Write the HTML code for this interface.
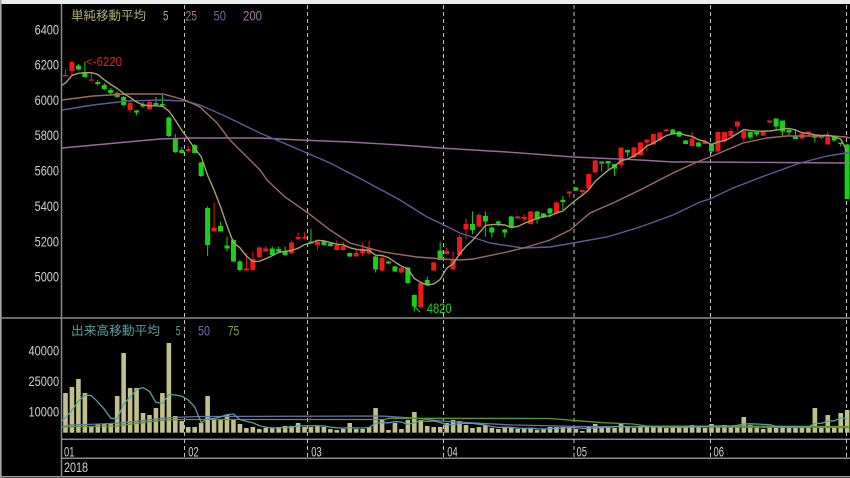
<!DOCTYPE html>
<html><head><meta charset="utf-8"><style>
html,body{margin:0;padding:0;background:#000;}
svg{display:block;}
.ax{font-family:"Liberation Sans",sans-serif;font-size:14px;fill:#d0d0d0;}
.cj{font-family:"Liberation Sans","Noto Sans CJK JP",sans-serif;font-size:12.5px;}
</style></head><body>
<svg id="c" width="850" height="478" xmlns="http://www.w3.org/2000/svg">
<defs>
<clipPath id="cp1"><rect x="62" y="5" width="788" height="312.5"/></clipPath>
<clipPath id="cp2"><rect x="62" y="319" width="788" height="119.5"/></clipPath>
</defs>
<rect x="0" y="0" width="850" height="478" fill="#000"/>
<rect x="0" y="0" width="850" height="4" fill="#ececec"/>
<rect x="0" y="0" width="1.6" height="478" fill="#a8a8a8"/>
<line x1="0" y1="476.8" x2="850" y2="476.8" stroke="#9a9a9a" stroke-width="1.5"/>
<line x1="61.5" y1="4" x2="61.5" y2="477" stroke="#8a8a8a" stroke-width="1.5"/>
<line x1="0" y1="318" x2="850" y2="318" stroke="#8a8a8a" stroke-width="1.5"/>
<line x1="62" y1="439.3" x2="850" y2="439.3" stroke="#8a8a8a" stroke-width="1.5"/>
<line x1="62" y1="458.3" x2="850" y2="458.3" stroke="#8a8a8a" stroke-width="1.5"/>
<g stroke="#c0c0c0" stroke-width="1" stroke-dasharray="4 3">
<line x1="184.5" y1="5" x2="184.5" y2="458"/>
<line x1="307.5" y1="5" x2="307.5" y2="458"/>
<line x1="443.5" y1="5" x2="443.5" y2="458"/>
<line x1="574" y1="5" x2="574" y2="458"/>
<line x1="710.5" y1="5" x2="710.5" y2="458"/>
<line x1="846.5" y1="5" x2="846.5" y2="458"/>
</g>
<g id="vol" clip-path="url(#cp2)"></g>
<g id="pr" clip-path="url(#cp1)"></g>

<text class="ax" x="34.6" y="34.5" textLength="24.4" lengthAdjust="spacingAndGlyphs">6400</text>
<text class="ax" x="34.6" y="69.6" textLength="24.4" lengthAdjust="spacingAndGlyphs">6200</text>
<text class="ax" x="34.6" y="104.9" textLength="24.4" lengthAdjust="spacingAndGlyphs">6000</text>
<text class="ax" x="34.6" y="140.2" textLength="24.4" lengthAdjust="spacingAndGlyphs">5800</text>
<text class="ax" x="34.6" y="175.6" textLength="24.4" lengthAdjust="spacingAndGlyphs">5600</text>
<text class="ax" x="34.6" y="210.9" textLength="24.4" lengthAdjust="spacingAndGlyphs">5400</text>
<text class="ax" x="34.6" y="246.3" textLength="24.4" lengthAdjust="spacingAndGlyphs">5200</text>
<text class="ax" x="34.6" y="281.6" textLength="24.4" lengthAdjust="spacingAndGlyphs">5000</text>
<text class="ax" x="28.5" y="355.5" textLength="30.6" lengthAdjust="spacingAndGlyphs">40000</text>
<text class="ax" x="28.5" y="386" textLength="30.6" lengthAdjust="spacingAndGlyphs">25000</text>
<text class="ax" x="28.5" y="416.6" textLength="30.6" lengthAdjust="spacingAndGlyphs">10000</text>
<text class="ax" x="64" y="456.7" textLength="10.5" lengthAdjust="spacingAndGlyphs">01</text>
<text class="ax" x="188.3" y="456.7" textLength="10.5" lengthAdjust="spacingAndGlyphs">02</text>
<text class="ax" x="311.3" y="456.7" textLength="10.5" lengthAdjust="spacingAndGlyphs">03</text>
<text class="ax" x="447.3" y="456.7" textLength="10.5" lengthAdjust="spacingAndGlyphs">04</text>
<text class="ax" x="576.5" y="456.7" textLength="10.5" lengthAdjust="spacingAndGlyphs">05</text>
<text class="ax" x="713.5" y="456.7" textLength="10.5" lengthAdjust="spacingAndGlyphs">06</text>
<text class="ax" x="64" y="471.8" textLength="24" lengthAdjust="spacingAndGlyphs">2018</text>

<text class="cj" x="71" y="19.8" fill="#b4ac78" textLength="75" lengthAdjust="spacingAndGlyphs">単純移動平均</text>
<text class="ax" x="163" y="20.5" style="fill:#b4ac78" textLength="5.5" lengthAdjust="spacingAndGlyphs">5</text>
<text class="ax" x="185.5" y="20.5" style="fill:#a87070" textLength="11.5" lengthAdjust="spacingAndGlyphs">25</text>
<text class="ax" x="213.5" y="20.5" style="fill:#6a6aa8" textLength="12.5" lengthAdjust="spacingAndGlyphs">50</text>
<text class="ax" x="243" y="20.5" style="fill:#a078a0" textLength="19" lengthAdjust="spacingAndGlyphs">200</text>

<text class="cj" x="71" y="335" fill="#5aa0a0" textLength="89" lengthAdjust="spacingAndGlyphs">出来高移動平均</text>
<text class="ax" x="175.7" y="335.5" style="fill:#5aa0a0" textLength="4.8" lengthAdjust="spacingAndGlyphs">5</text>
<text class="ax" x="198" y="335.5" style="fill:#6e6eb0" textLength="12" lengthAdjust="spacingAndGlyphs">50</text>
<text class="ax" x="227.7" y="335.5" style="fill:#78a840" textLength="11.5" lengthAdjust="spacingAndGlyphs">75</text>

<text class="ax" x="86" y="66" style="fill:#e02020;font-size:13px" textLength="36" lengthAdjust="spacingAndGlyphs">&lt;-6220</text>
<line x1="413" y1="305" x2="420" y2="312" stroke="#20d020" stroke-width="1"/>
<text class="ax" x="426.7" y="313" style="fill:#20d020" textLength="25" lengthAdjust="spacingAndGlyphs">4820</text>
</svg>
<script>
(function(){
var C=[
['r',75,76.5,69,76.5],['r',62,71,61,75],['g',65.5,69.5,64,70.5],['g',72,77,61.5,77.5],['r',79.5,80.5,72.5,80.5],
['g',82,84,80,86],['g',85,89,83,90.5],['g',90,93,88,95],['g',93,97,91.5,97.5],['g',97,105,96,106],
['r',103,110,101.5,112.5],['g',110.5,112.5,110,115],['g',104.5,106.5,102,107.5],['r',102,109,101,110],['g',103,105,97,105],
['g',104,105.5,95,105.5],['g',117.5,136,116.5,137],['g',138,152,134,153],['g',150,153,147,153.5],['r',149,151,146,152],
['g',145,153,144,153.5],['g',162.5,176,161.5,177],['g',208,245,206.5,256],['r',227.5,231.5,202.5,231.5],['g',226,231.5,221.5,231.5],
['g',245.5,248.5,236.5,251.5],['g',240,261.5,239.5,262],['g',261.5,270,260,271.5],['r',268.5,270.5,253.5,270.5],['r',259,270,251.5,270.5],
['r',247.5,257,246.5,257.5],['r',248.5,251.5,246,251.5],['g',248.5,255,246.5,256],['g',249,251.5,246.5,253.5],['g',251.5,255,246.5,256],
['r',242.5,253.5,240.5,254],['r',237,239,232.5,240],['r',237,238.5,232.5,239.5],['g',241.5,243.5,229,243.5],['r',241.5,245,240.5,250],
['g',241.5,245,241,245.5],['g',243.5,246,243,246.5],['r',245,250,240.5,250.5],['r',246,250,241.5,250.5],['g',253,256.5,252.5,257],
['r',253,256.5,250,256.5],['r',249,253.5,242.5,256],['r',248,253.5,240.5,255],['g',256.5,269.5,256,272.5],['r',258,270.5,256.5,271.5],
['g',261.5,263.5,261,264],['g',266.5,271.5,266,272],['r',268,272.5,267,273],['g',267.5,283,267,283.5],['g',295,306.5,294.5,311.5],
['r',283,307,281.5,308],['g',280,285,276.5,286],['r',262.5,270.5,261.5,271.5],['g',250.5,260,241.5,260.5],['r',251,254,248,254],
['r',260,269.5,251.5,269.5],['r',237,255,235,256],['r',224,229.5,218.5,239.5],['g',224,230,211.5,234],['r',215,226.5,213,227],
['g',216,221.5,211.5,236.5],['g',227.5,232.5,226.5,237.5],['g',221.5,223.5,220.5,226],['g',229.5,232.5,229,237.5],['g',216.5,227.5,216,228.5],
['r',216.5,218.5,216,218.5],['r',217,219,214,221.5],['r',211.5,224,211,224.5],['g',211.5,219.5,211,223.5],['g',213.5,217.5,213,218],
['g',208.5,213.5,208,217.5],['r',202.5,213.5,202,214],['g',200,202,196,210],['r',191.5,193.5,191.5,197],['g',187.5,190.5,187,191],
['r',190,192,190,195],['r',174,188.5,173.5,189],['r',160.5,172.5,160,173],['g',161.5,163.5,161.5,171.5],['g',161,163.5,161,170.5],
['g',164,168.5,164,176],['r',147.5,165,147.5,168.5],['g',150,152.5,150,156.5],['r',147.5,157.5,147,158],['r',142.5,155,142,155.5],
['r',139.5,142.5,139.5,151.5],['r',134,144.5,133.5,145],['r',132.5,140.5,132,141],['r',129.5,131,129,131.5],['g',129.5,133.5,129,134],
['g',131.5,136.5,131,137],['g',140.5,144,140,144.5],['r',138.5,146,132,146.5],['g',142.5,146.5,142,147],['r',141.5,144,139.5,144],
['g',144,151.5,144,153.5],['r',132,151.5,132,152],['r',132,141.5,132,142],['r',131,136,128,136.5],['r',121.5,126.5,121.5,130.5],
['r',131,138.5,131,141.5],['g',132,137.5,132,139.5],['g',132,134.5,132,136.5],['r',131.5,135.5,131.5,136],['r',120.5,122.5,120.5,123],
['g',118.5,126.5,118.5,129.5],['g',120.5,131.5,120.5,136],['g',130,132.5,128,135],['g',135.5,139,129,139],['r',133.5,138.5,133.5,139.5],
['r',131.5,133.5,131.5,136.5],['g',136.5,137.5,136.5,142.5],['r',136.5,138,135,139.5],['r',137,144.5,131.5,144.5],['g',135.5,140.5,135.5,141.5],
['g',142.5,144,142.5,146.5],['g',144.5,199,144,199]
];
var V=[393,387,379,393,426,424,424,424,396,353,
388,388,413,415,408,393,343,416,421,427,
427,423,396,419,420,415,420,424,428,427,
429,428,428,427,426,426,423,427,427,426,
427,429,430,429,423,429,429,427,408,420,
430,423,429,420,412,420,426,427,427,423,
420,421,425,428,427,425,428,429,427,428,
429,429,428,430,429,427,427,427,428,429,
431,427,424,427,428,428,424,427,428,426,
427,427,427,428,428,427,426,425,427,428,
424,426,425,427,425,417,425,426,429,426,
426,426,428,426,428,427,408,428,415,426,
413,410];
function X(i){return 65.5+i*6.46;}
var vs="",ps="";
var BASE=432.7;
for(var i=0;i<V.length;i++){
  var h=BASE-V[i];
  vs+='<rect x="'+(X(i)-2.3).toFixed(2)+'" y="'+V[i]+'" width="4.6" height="'+h.toFixed(1)+'" fill="#c0c088"/>';
}
var H=[9,9,9,9,9].concat(V.map(function(y){return BASE-y;}));
var pts=[];
for(var i=-1;i<V.length;i++){
  var s=0;for(var k=i+1;k<=i+5;k++)s+=H[k];
  pts.push(X(i).toFixed(1)+','+(BASE-s/5).toFixed(1));
}
vs+='<polyline points="62,427 70,425 100,424 120,423 140,421 165,418 185,417 200,416.5 380,416 390,416.5 413,418 447,421.5 513,425 580,426.5 700,427 846,427.5 850,427.5" fill="none" stroke="#6e6eb0" stroke-width="1.3"/>';
vs+='<polyline points="62,427 80,426.5 115,426 140,423 165,420 184,419.5 385,419.5 388,418.3 550,418.5 577,420.7 603,422.7 633,424 647,426 846,426.5 850,426.5" fill="none" stroke="#5a9a2a" stroke-width="1.3"/>';
vs+='<polyline points="'+pts.join(' ')+'" fill="none" stroke="#5aa0a0" stroke-width="1.3"/>';
document.getElementById('vol').innerHTML=vs;

for(var i=0;i<C.length;i++){
  var c=C[i],col=c[0]=='r'?'#f01818':'#18d018',x=X(i);
  ps+='<line x1="'+x.toFixed(2)+'" x2="'+x.toFixed(2)+'" y1="'+c[3]+'" y2="'+c[4]+'" stroke="'+col+'" stroke-width="1"/>';
  var bh=Math.max(1.2,c[2]-c[1]);
  ps+='<rect x="'+(x-2.5).toFixed(2)+'" y="'+c[1]+'" width="5" height="'+bh+'" fill="'+col+'"/>';
}
ps+='<polyline points="62,148 127,142 160,139 193,138 260,138 300,140 350,142 400,145 440,148 507,152 573,157 640,160 673,162 710,162 846,163 850,163" fill="none" stroke="#9a6a9a" stroke-width="1.4"/>';
ps+='<polyline points="62,110 93,105 127,101 160,100 185,101 200,105 227,117 260,133 300,150 330,163 363,180 400,200 427,217 444,225 460,233 490,243 523,248 550,247 573,243 607,237 640,227 673,215 700,202 710,199 733,188 767,175 800,163 827,156 846,153 850,152.5" fill="none" stroke="#5c5c9c" stroke-width="1.4"/>';
ps+='<polyline points="62,100 93,96 127,94 163,94 185,100 200,107 217,123 230,140 247,157 260,170 267,180 285,197 308,213 330,230 350,243 383,252 417,257 443,259 460,260 473,259 507,252 527,247 550,240 570,230 590,213 613,203 640,190 673,173 697,162 710,157 743,143 767,138 787,136 810,136 833,136 846,137 850,138" fill="none" stroke="#a06a62" stroke-width="1.4"/>';
var CL=[95,100,80,80,80].concat(C.map(function(c){return c[0]=='r'?c[1]:c[2];}));
var mp=[];
for(var i=-1;i<C.length;i++){
  var s=0;for(var k=i+1;k<=i+5;k++)s+=CL[k];
  mp.push(X(i).toFixed(1)+','+(s/5).toFixed(1));
}
ps+='<polyline points="'+mp.join(' ')+'" fill="none" stroke="#a8a070" stroke-width="1.4"/>';
document.getElementById('pr').innerHTML=ps;
})();
</script>
</body></html>
